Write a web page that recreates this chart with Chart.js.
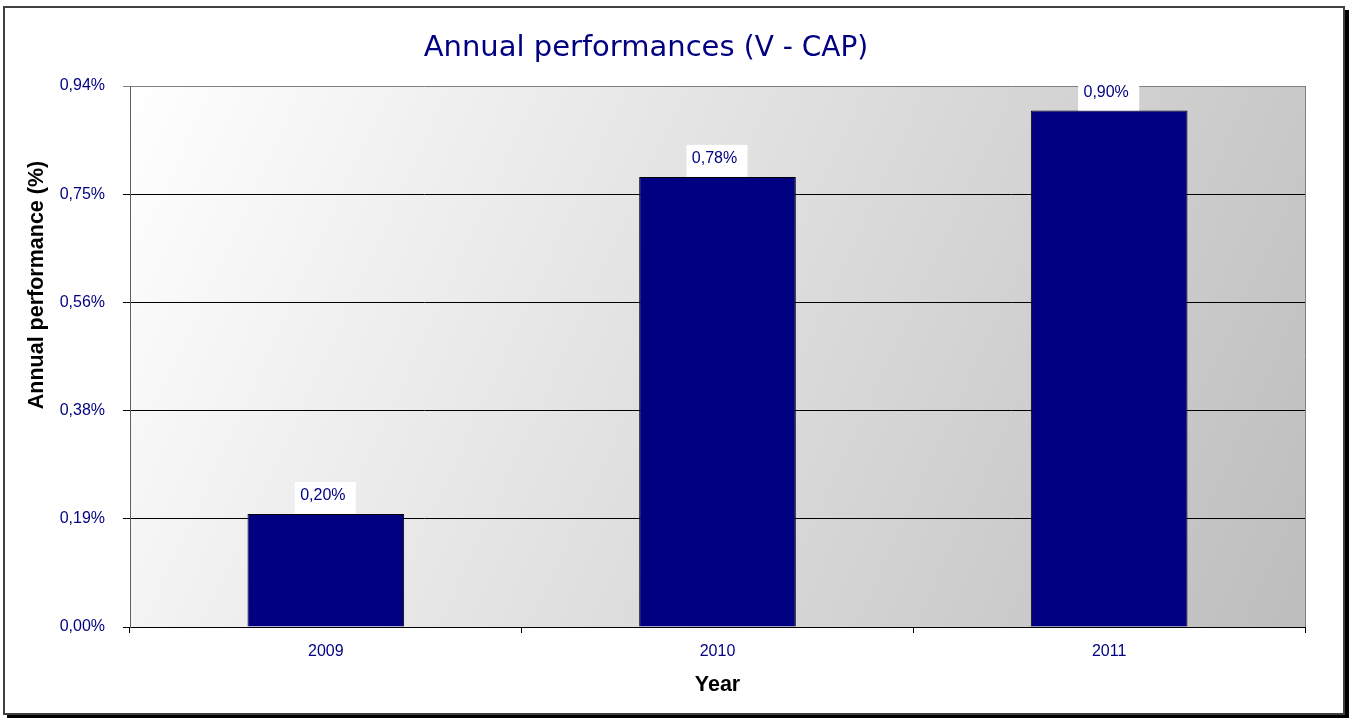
<!DOCTYPE html>
<html>
<head>
<meta charset="utf-8">
<script src="https://cdn.jsdelivr.net/npm/chart.js@4/dist/chart.umd.min.js"></script>
<style>
  html, body { margin: 0; padding: 0; background: #fff; }
  #wrap { position: relative; width: 1351px; height: 718px; }
</style>
</head>
<body>
<div id="wrap"><canvas id="perfChart"></canvas></div>
<script>
// data
const years = ['2009', '2010', '2011'];
const performance = [0.196, 0.78, 0.895];
const valueLabels = ['0,20%', '0,78%', '0,90%'];
const yTickLabels = ['0,00%', '0,19%', '0,38%', '0,56%', '0,75%', '0,94%'];
const yMax = 0.9375;
const yStep = 0.1875;
const yTitle = 'Annual performance (%)';

const NAVY = '#000080';
const SANS = '"Liberation Sans", Arial, sans-serif';

// outer frame with shadow, plot area gradient, titles
const framePlugin = {
    id: 'frame',
    beforeDraw(chart) {
        const ctx = chart.ctx;
        const a = chart.chartArea;
        ctx.save();
        ctx.fillStyle = '#fff';
        ctx.fillRect(0, 0, chart.width, chart.height);
        // shadow
        ctx.fillStyle = '#000';
        ctx.fillRect(7, 10, 1342, 708);
        ctx.fillStyle = '#fff';
        ctx.fillRect(3, 6, 1342, 709);
        ctx.strokeStyle = '#404040';
        ctx.lineWidth = 2;
        ctx.strokeRect(4, 7, 1340, 707);

        // plot background
        const g = ctx.createLinearGradient(a.left, a.top, a.right, a.bottom);
        g.addColorStop(0, '#ffffff');
        g.addColorStop(1, '#bdbdbd');
        ctx.fillStyle = g;
        ctx.fillRect(a.left, a.top, a.right - a.left, a.bottom - a.top);
        ctx.strokeStyle = '#808080';
        ctx.lineWidth = 1;
        ctx.beginPath();
        ctx.moveTo(a.right + 0.5, a.top);
        ctx.lineTo(a.right + 0.5, a.bottom);
        ctx.stroke();

        // title
        ctx.fillStyle = NAVY;
        ctx.textBaseline = 'alphabetic';
        const f1 = '29px "DejaVu Sans"';
        const f2 = '28px "DejaVu Sans"';
        const t1 = 'Annual performances ';
        const t2 = '(V - CAP)';
        ctx.font = f1;
        const w1 = ctx.measureText(t1).width;
        ctx.font = f2;
        const w2 = ctx.measureText(t2).width;
        const x0 = 646 - (w1 + w2) / 2;
        ctx.textAlign = 'left';
        ctx.font = f1;
        ctx.fillText(t1, x0, 56);
        ctx.font = f2;
        ctx.fillText(t2, x0 + w1, 56);

        // y axis title (sits above the middle of the plot, as in the original)
        ctx.translate(37, 285);
        ctx.rotate(-Math.PI / 2);
        ctx.fillStyle = '#000';
        ctx.font = 'bold 21.5px ' + SANS;
        ctx.textAlign = 'center';
        ctx.textBaseline = 'middle';
        ctx.fillText(yTitle, 0, 0);
        ctx.restore();
    }
};

// white boxes with the values above the bars
const valueLabelPlugin = {
    id: 'valueLabels',
    afterDatasetsDraw(chart) {
        const ctx = chart.ctx;
        const meta = chart.getDatasetMeta(0);
        ctx.save();
        meta.data.forEach((bar, i) => {
            const top = Math.max(bar.y - 32, chart.chartArea.top - 1);
            ctx.fillStyle = '#fff';
            ctx.fillRect(bar.x - 31, top, 61, bar.y - top);
            ctx.fillStyle = NAVY;
            ctx.font = '16px ' + SANS;
            ctx.textAlign = 'center';
            ctx.textBaseline = 'middle';
            ctx.fillText(valueLabels[i], bar.x - 3, bar.y - 18);
        });
        ctx.restore();
    }
};

const ctx = document.getElementById('perfChart').getContext('2d');
const perfChart = new Chart(ctx, {
    type: 'bar',
    data: {
        labels: years,
        datasets: [{
            label: 'Annual performance',
            data: performance,
            backgroundColor: NAVY,
            borderColor: '#000',
            borderWidth: 1,
            barPercentage: 0.4,
            categoryPercentage: 1.0
        }]
    },
    options: {
        responsive: true,
        maintainAspectRatio: false,
        animation: false,
        layout: {
            padding: { left: 25, right: 46, top: 86, bottom: 20 }
        },
        plugins: {
            legend: { display: false },
            title: { display: false },
            tooltip: { enabled: false }
        },
        scales: {
            x: {
                afterFit(scale) { scale.height = 71; },
                grid: {
                    offset: true,
                    drawOnChartArea: false,
                    drawTicks: true,
                    tickLength: 6,
                    color: '#000'
                },
                border: { color: '#000', width: 1 },
                ticks: {
                    color: NAVY,
                    padding: 9,
                    font: { family: SANS, size: 16 }
                },
                title: {
                    display: true,
                    text: 'Year',
                    color: '#000',
                    padding: 0,
                    font: { family: SANS, size: 21.5, weight: 'bold' }
                }
            },
            y: {
                min: 0,
                max: yMax,
                afterFit(scale) { scale.width = 105; },
                grid: {
                    color: (c) => (c.tick && c.tick.value >= yMax - 1e-9 ? '#808080' : '#000'),
                    tickLength: 7
                },
                border: { color: '#606060', width: 1 },
                ticks: {
                    stepSize: yStep,
                    color: NAVY,
                    padding: 18,
                    font: { family: SANS, size: 16 },
                    callback: (value, index) => yTickLabels[index]
                }
            }
        }
    },
    plugins: [framePlugin, valueLabelPlugin]
});
</script>
</body>
</html>
